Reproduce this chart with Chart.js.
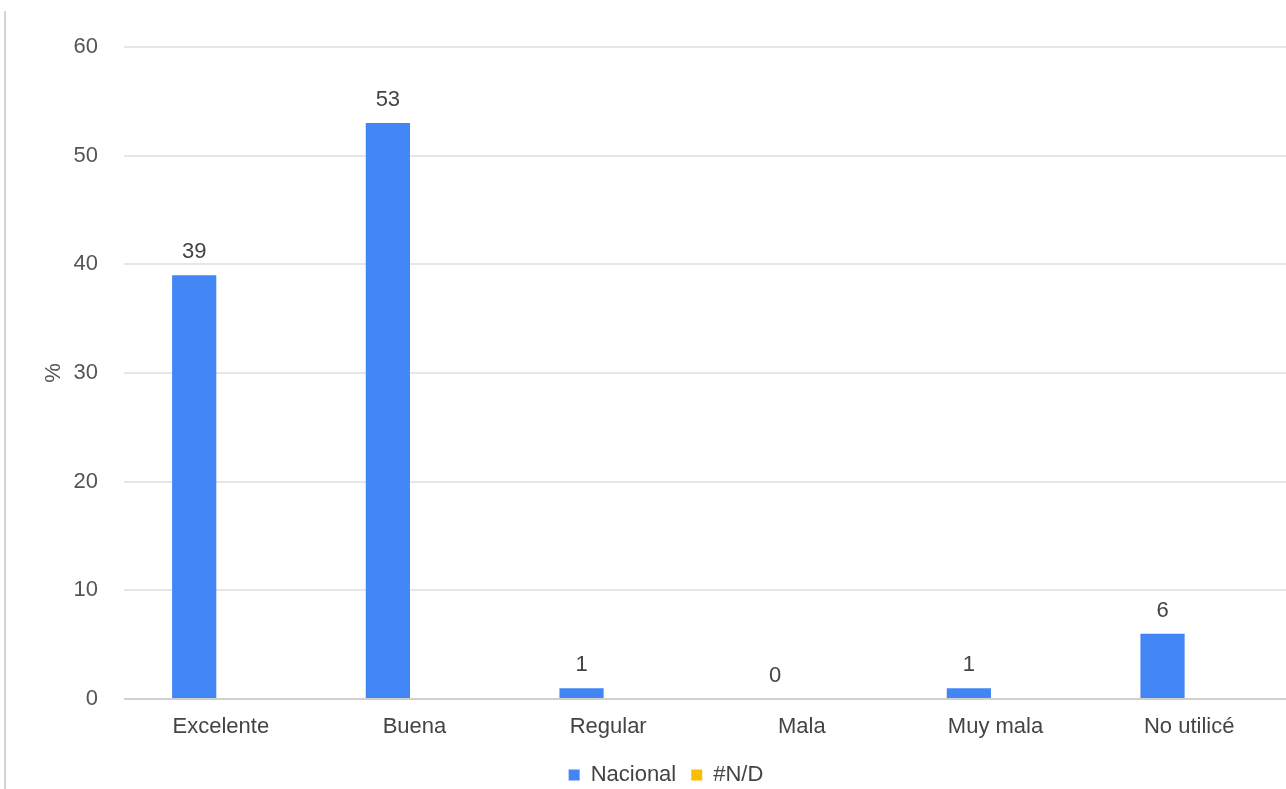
<!DOCTYPE html>
<html>
<head>
<meta charset="utf-8">
<title>Calificación</title>
<script src="https://cdn.jsdelivr.net/npm/chart.js@4/dist/chart.umd.min.js"></script>
<style>
  html, body { margin: 0; padding: 0; background: #fff; }
  #wrap { position: relative; width: 1286px; height: 789px; }
  #edge { position: absolute; left: 4px; top: 11px; bottom: 0; width: 2px; background: #d4d4d4; }
</style>
</head>
<body>
<div id="wrap">
  <div id="edge"></div>
  <canvas id="chart" width="1286" height="789"></canvas>
</div>
<script>
// --- DATA ---
const categories = ["Excelente", "Buena", "Regular", "Mala", "Muy mala", "No utilicé"];
const nacional = [39, 53, 1, 0, 1, 6];
const sinDato = [null, null, null, null, null, null];
const yTicks = [0, 10, 20, 30, 40, 50, 60];

const FONT = '"Liberation Sans", Arial, sans-serif';

// --- VALUE LABELS above each bar ---
const valueLabels = {
    id: 'valueLabels',
    afterDatasetsDraw(chart) {
        const ctx = chart.ctx;
        const meta = chart.getDatasetMeta(0);
        ctx.save();
        ctx.font = '22px ' + FONT;
        ctx.fillStyle = '#444';
        ctx.textAlign = 'center';
        ctx.textBaseline = 'middle';
        meta.data.forEach((bar, i) => {
            const v = nacional[i];
            if (v === null) return;
            ctx.fillText(String(v), bar.x, bar.y - 23);
        });
        ctx.restore();
    }
};

const chart = new Chart(document.getElementById("chart"), {
    type: "bar",
    data: {
        labels: categories,
        datasets: [
            { label: "Nacional", data: nacional, backgroundColor: '#4285f4' },
            { label: "#N/D", data: sinDato, backgroundColor: '#fbbc04' }
        ]
    },
    options: {
        responsive: false,
        animation: false,
        categoryPercentage: 0.55,
        barPercentage: 0.83,
        layout: { padding: { top: 47, left: 46, right: 0, bottom: -7 } },
        scales: {
            x: {
                grid: { display: false },
                border: { display: false },
                afterFit: (scale) => { scale.height = 50; },
                ticks: { color: '#444', font: { family: FONT, size: 22 }, padding: 7, maxRotation: 0 }
            },
            y: {
                min: 0,
                max: 60,
                afterBuildTicks: (scale) => { scale.ticks = yTicks.map(v => ({ value: v })); },
                afterFit: (scale) => { scale.width = 78; },
                border: { display: false },
                grid: {
                    drawTicks: false,
                    lineWidth: 2,
                    color: (c) => c.tick && c.tick.value === 0 ? '#cfcfcf' : '#e6e6e6'
                },
                ticks: { color: '#555', font: { family: FONT, size: 22 }, padding: 26 },
                title: {
                    display: true,
                    text: '%',
                    color: '#555',
                    font: { family: FONT, size: 22 },
                    padding: { top: -5, bottom: 0 }
                }
            }
        },
        plugins: {
            legend: {
                position: 'bottom',
                labels: {
                    color: '#444',
                    font: { family: FONT, size: 22 },
                    boxWidth: 11,
                    boxHeight: 11,
                    padding: 15
                }
            },
            tooltip: { enabled: false }
        }
    },
    plugins: [valueLabels]
});
</script>
</body>
</html>
